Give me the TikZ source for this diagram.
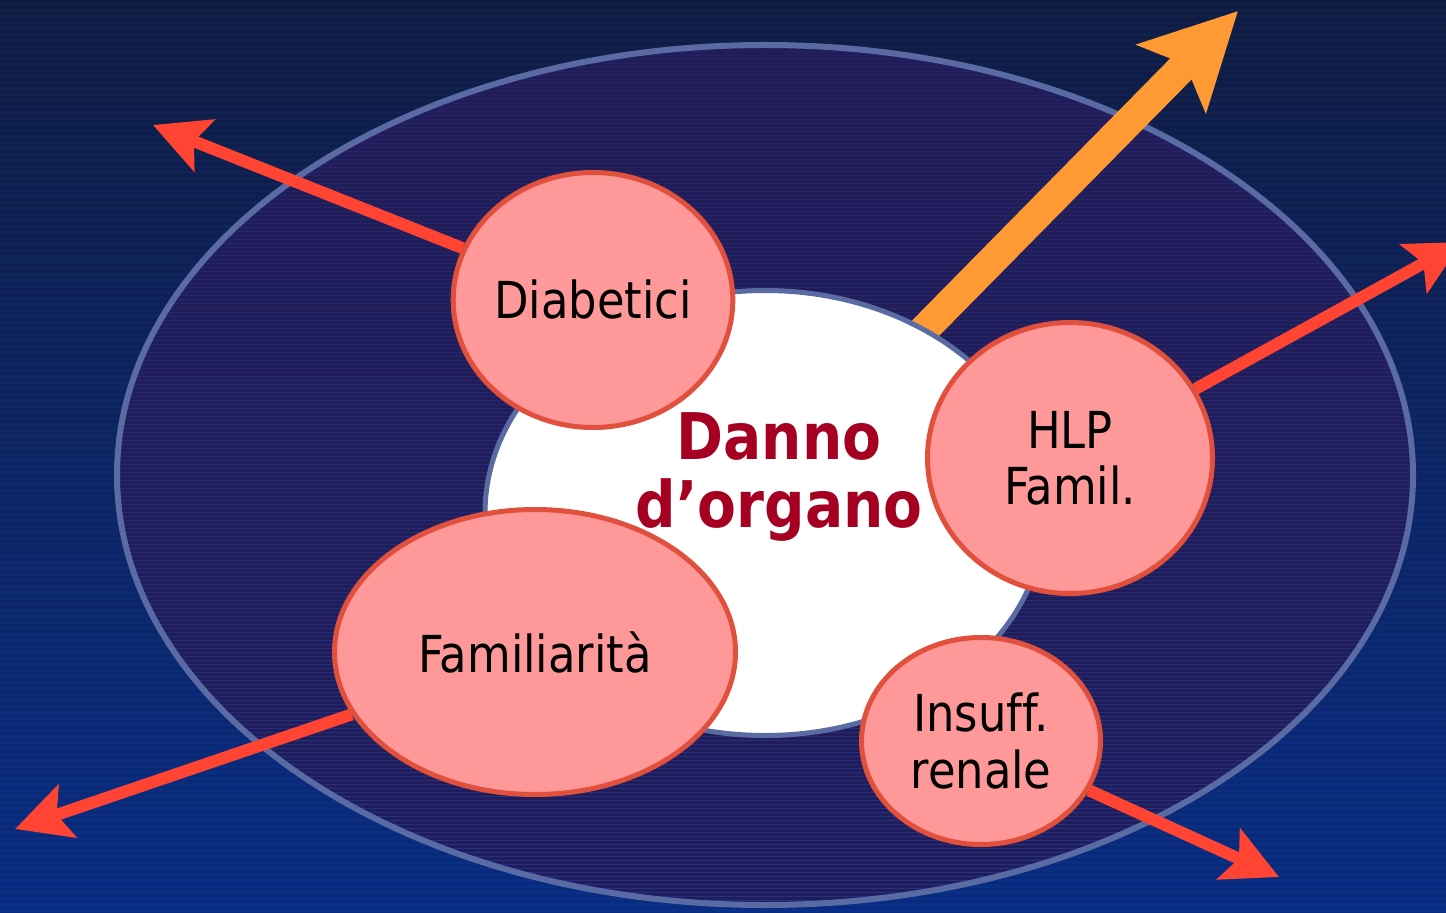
\documentclass[tikz,border=0pt]{standalone}
\usepackage{fontspec}
\setmainfont{DejaVu Sans}[FakeStretch=0.88,Ligatures=NoCommon]
\usetikzlibrary{shapes.geometric,arrows.meta}
\definecolor{bgtop}{HTML}{111F47}
\definecolor{bgbot}{HTML}{0A2F88}
\definecolor{ringfill}{HTML}{221D57}
\definecolor{ringstripe}{HTML}{1E3DA8}
\definecolor{ringline}{HTML}{5A6AA3}
\definecolor{pinkfill}{HTML}{FF9999}
\definecolor{pinkline}{HTML}{E0503C}
\definecolor{arrowred}{HTML}{FF4433}
\definecolor{arroworange}{HTML}{FF9933}
\definecolor{titlered}{HTML}{A50021}
\pgfdeclarelayer{back}
\pgfdeclarelayer{mid}
\pgfsetlayers{back,mid,main}
\begin{document}
\begin{tikzpicture}[x=0.1mm,y=-0.1mm,
    bubble/.style={ellipse,draw=pinkline,fill=pinkfill,line width=0.5mm,inner sep=0pt,
      align=center,font=\fontsize{14.5}{16}\selectfont},
    organ/.style={ellipse,draw=ringline,fill=white,line width=0.5mm,inner sep=0pt,
      minimum width=56mm,minimum height=44.5mm},
    title/.style={align=center,text=titlered,font=\fontsize{18.3}{19.3}\selectfont\bfseries},
    redarrow/.style={draw=arrowred,line width=1.2mm,
      -{Stealth[length=5.5mm,width=5.5mm,inset=1.1mm]}},
    bigarrow/.style={draw=arroworange,line width=3mm,
      -{Stealth[length=9.4mm,width=9.5mm,inset=1.9mm]}}]
  \useasboundingbox (0,0) rectangle (1446,912);

  % nodes
  \node[organ] (organ) at (765,513) {};
  \node[title] (title) at (779,477) {Danno\\d’organo};
  \node[bubble,minimum width=27.1mm,minimum height=25.5mm] (dia) at (593,300) {Diabetici};
  \node[bubble,minimum width=28.5mm,minimum height=27.1mm] (hlp) at (1070,458) {HLP\\Famil.};
  \node[bubble,minimum width=40.1mm,minimum height=28.5mm] (fam) at (535,652) {Familiarità};
  \node[bubble,minimum width=23.9mm,minimum height=20.7mm] (ins) at (981,741) {Insuff.\\renale};

  \coordinate (tipO) at (1238,11);
  \coordinate (tipD) at (153,125);
  \coordinate (tipH) at (1462,242);
  \coordinate (tipF) at (15,829);
  \coordinate (tipI) at (1279,877);

  % background and outer ring
  \begin{pgfonlayer}{back}
    \shade[top color=bgtop,bottom color=bgbot] (0,0) rectangle (1446,912);
    \foreach \y in {0,6,...,912}
      \fill[black,opacity=0.07] (0,\y) rectangle (1446,\y+3);
    \fill[ringfill] (765,475) ellipse [x radius=648,y radius=430];
    \begin{scope}
      \clip (765,475) ellipse [x radius=648,y radius=430];
      \foreach \y [evaluate=\y as \op using 0.15+0.55*\y/912] in {44,48,...,908}
        \draw[ringstripe,opacity=\op,line width=0.1mm] (100,\y) -- (1430,\y);
    \end{scope}
    \draw[ringline,line width=0.6mm] (765,475) ellipse [x radius=648,y radius=430];
  \end{pgfonlayer}

  % arrows
  \begin{pgfonlayer}{mid}
    \draw[bigarrow] (title.center) -- (tipO);
    \draw[redarrow] (dia) -- (tipD);
    \draw[redarrow] (hlp) -- (tipH);
    \draw[redarrow] (fam) -- (tipF);
    \draw[redarrow] (ins) -- (tipI);
  \end{pgfonlayer}
\end{tikzpicture}
\end{document}
